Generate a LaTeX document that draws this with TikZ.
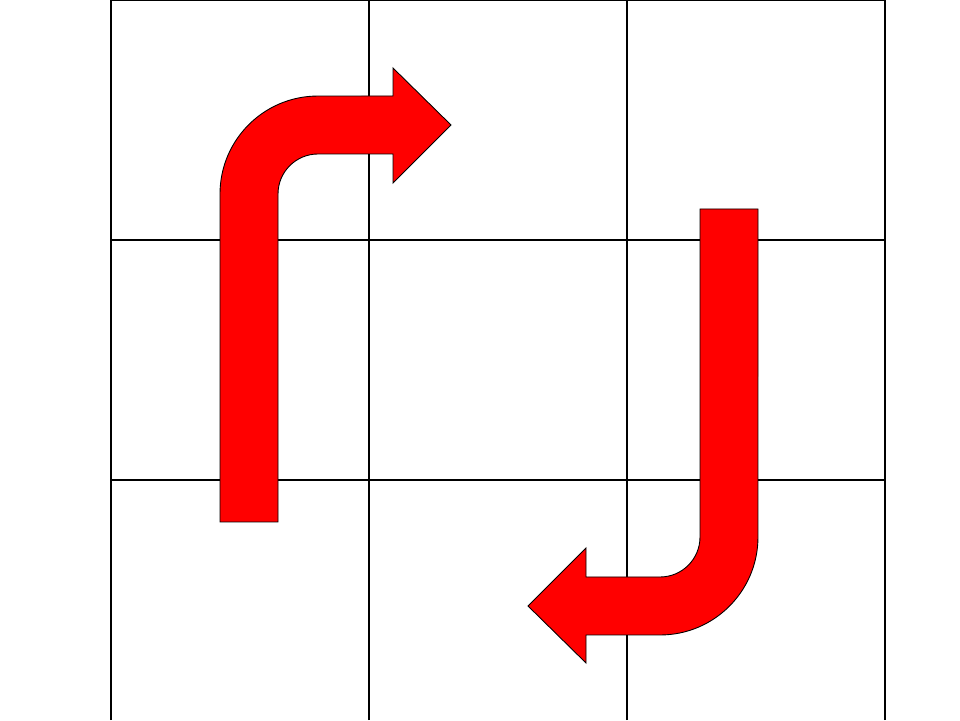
\documentclass[tikz,border=0pt]{standalone}
\usepackage{tikz}

\begin{document}
\begin{tikzpicture}[x=0.02cm, y=0.02cm,
    gridline/.style={draw=black, line width=0.6pt},
    bentarrow/.style={fill=red, draw=black, line width=0.5pt}]
        \useasboundingbox (0,0) rectangle (960,720);

        % Draw grid
        \foreach \x in {111,369,627,885}
            \draw[gridline] (\x,0) -- (\x,720);
        \foreach \y in {240,480,720}
            \draw[gridline] (111,\y) -- (885,\y);

        % Draw arrows
        \draw[bentarrow] (220,198) -- (220,526) arc (180:90:1.96cm) -- (393,624) -- (393,652)
            -- (451,595) -- (393,537) -- (393,566) -- (318,566) arc (90:180:0.8cm) -- (278,198) -- cycle;
        \draw[bentarrow] (700,511) -- (700,183) arc (0:-90:0.8cm) -- (586,143) -- (586,172)
            -- (528,114) -- (586,57) -- (586,85) -- (660,85) arc (-90:0:1.96cm) -- (758,511) -- cycle;
    \end{tikzpicture}
\end{document}
